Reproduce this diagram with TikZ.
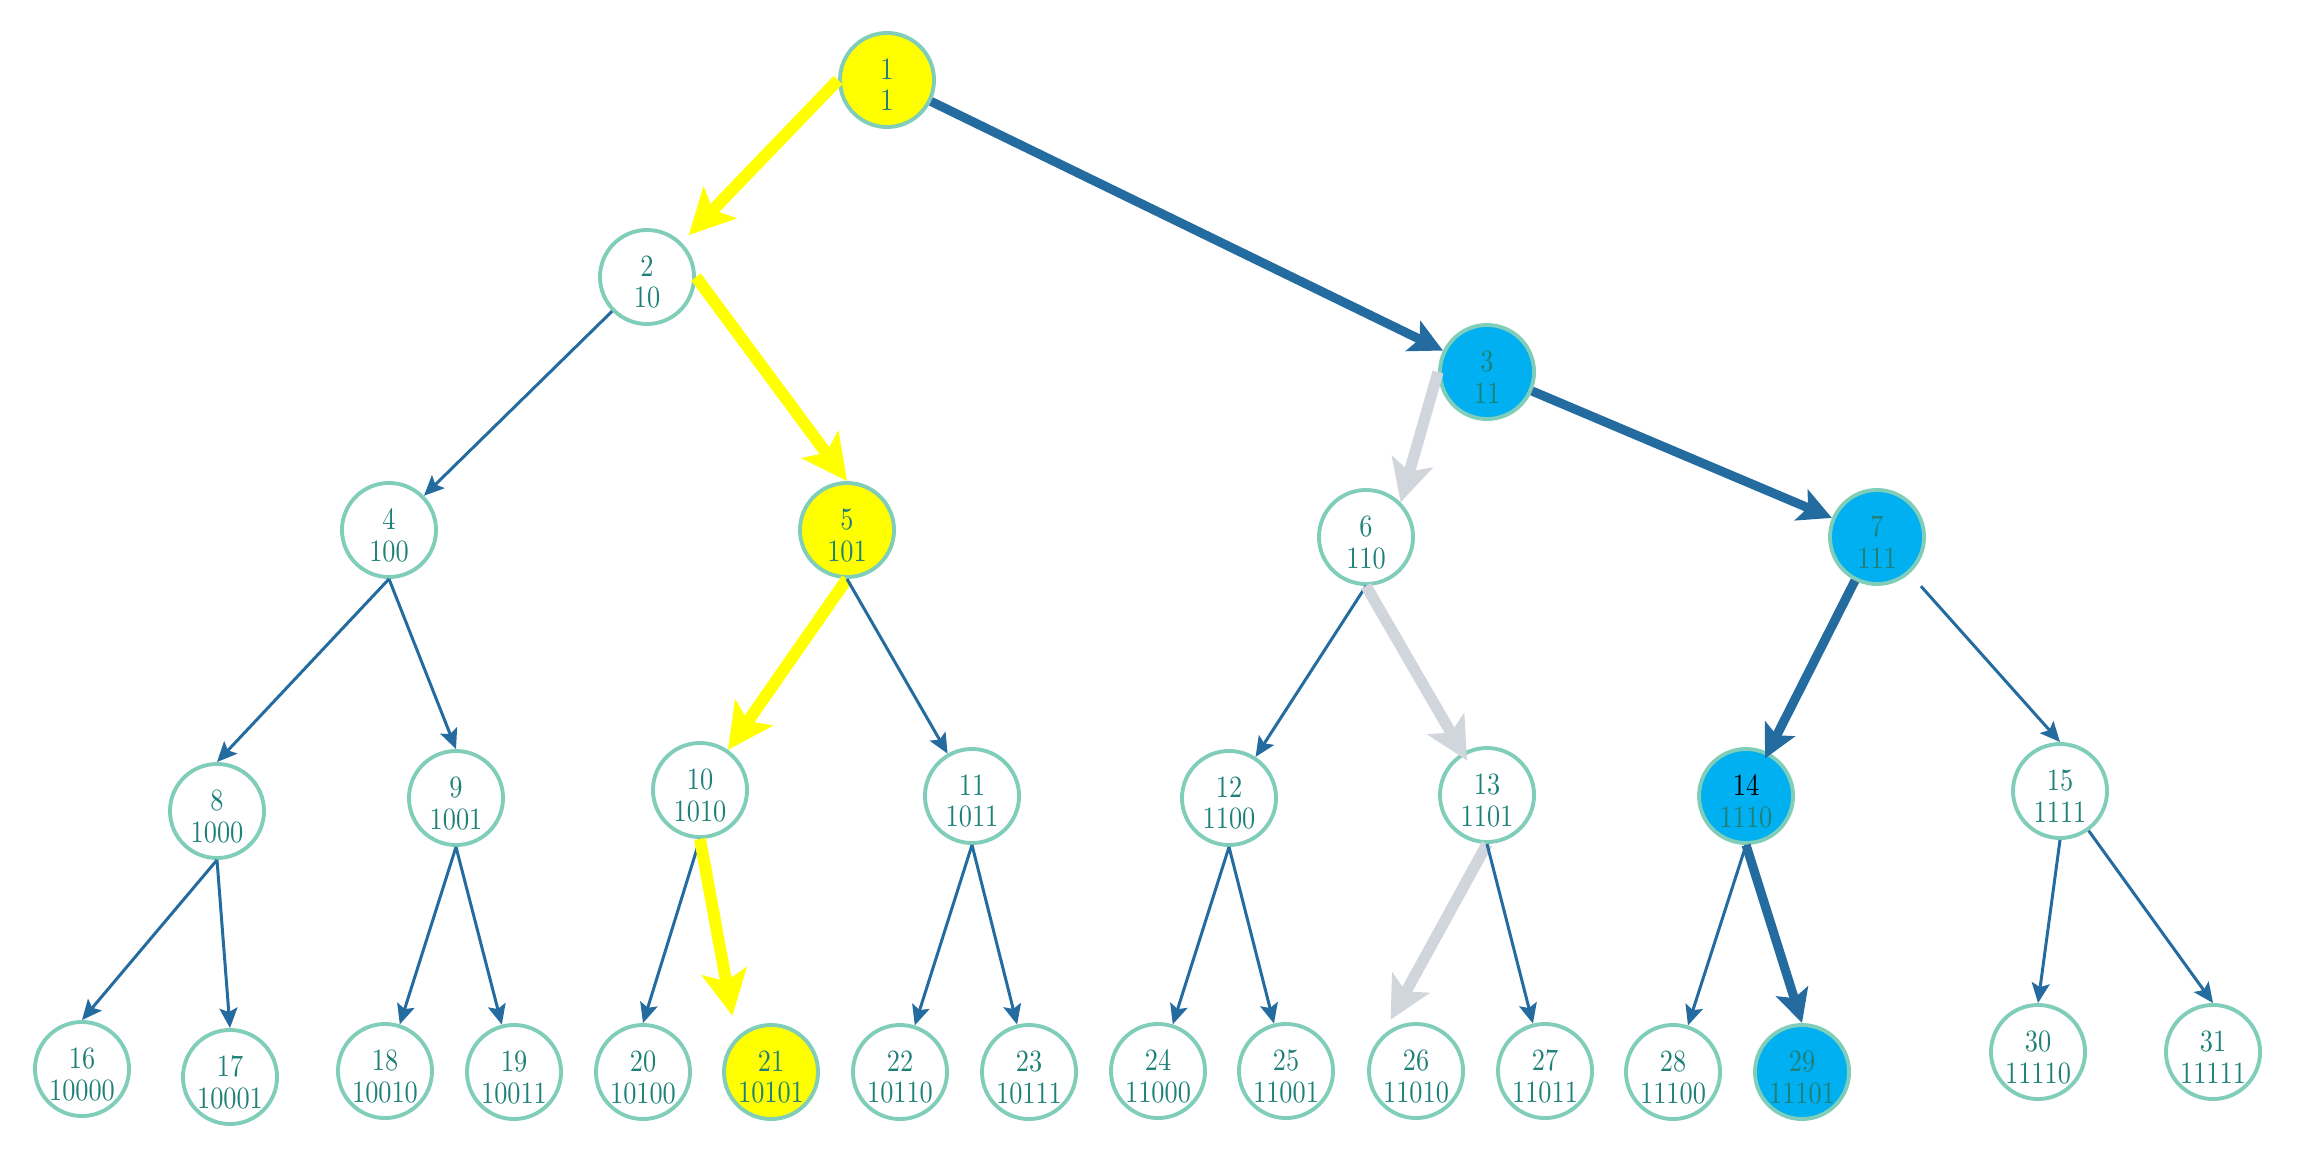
\documentclass[tikz,border=0pt]{standalone}
\usepackage{fontspec}
\usetikzlibrary{arrows.meta}
\newfontfamily\nodefont{lmroman10-regular.otf}[FakeStretch=0.85]
\newcommand\tx[2]{\raisebox{-0.5mm}[\height][0pt]{\shortstack{#1\\#2}}}
\definecolor{ring}{HTML}{80CDB9}
\definecolor{txt}{HTML}{1E8078}
\definecolor{eblue}{HTML}{246BA0}
\definecolor{hyel}{HTML}{FFFF00}
\definecolor{hgray}{HTML}{D1D5DC}
\definecolor{hblue}{HTML}{00B0F0}
\begin{document}
\begin{tikzpicture}[x=0.01cm,y=-0.01cm,
 nd/.style={circle,draw=ring,line width=1.1pt,minimum size=0.94cm,inner sep=0pt,text=txt,font=\nodefont\fontsize{8.8}{9}\selectfont},
 ynd/.style={nd,fill=hyel},
 bnd/.style={nd,fill=hblue},
 tarr/.style={draw=eblue,line width=0.85pt,-{Stealth[length=0.2cm,width=0.18cm,inset=0.04cm]}},
 barr/.style={draw=eblue,line width=2.6pt,-{Stealth[length=0.33cm,width=0.33cm,inset=0.07cm]}},
 yarr/.style={draw=hyel,line width=3.4pt,-{Stealth[length=0.45cm,width=0.45cm,inset=0.1cm]}},
 garr/.style={draw=hgray,line width=3.2pt,-{Stealth[length=0.42cm,width=0.42cm,inset=0.1cm]}}
]
\useasboundingbox (0,0) rectangle (2313,1173);
% level 0-2
\node[ynd] (n1) at (887,80) {\tx{1}{1}};
\node[nd]  (n2) at (647,277) {\tx{2}{10}};
\node[bnd] (n3) at (1487,372) {\tx{3}{11}};
\node[nd]  (n4) at (389,530) {\tx{4}{100}};
\node[ynd] (n5) at (847,530) {\tx{5}{101}};
\node[nd]  (n6) at (1366,537) {\tx{6}{110}};
\node[bnd] (n7) at (1877,537) {\tx{7}{111}};
% level 3
\node[nd] (n8)  at (217,811) {\tx{8}{1000}};
\node[nd] (n9)  at (456,798) {\tx{9}{1001}};
\node[nd] (n10) at (700,790) {\tx{10}{1010}};
\node[nd] (n11) at (972,796) {\tx{11}{1011}};
\node[nd] (n12) at (1229,798) {\tx{12}{1100}};
\node[nd] (n13) at (1487,795) {\tx{13}{1101}};
\node[bnd] (n14) at (1746,796) {\tx{\color{black}14}{1110}};
\node[nd] (n15) at (2060,791) {\tx{15}{1111}};
% level 4
\node[nd] (n16) at (82,1069) {\tx{16}{10000}};
\node[nd] (n17) at (230,1077) {\tx{17}{10001}};
\node[nd] (n18) at (385,1071) {\tx{18}{10010}};
\node[nd] (n19) at (514,1072) {\tx{19}{10011}};
\node[nd] (n20) at (643,1072) {\tx{20}{10100}};
\node[ynd] (n21) at (771,1072) {\tx{21}{10101}};
\node[nd] (n22) at (900,1072) {\tx{22}{10110}};
\node[nd] (n23) at (1029,1072) {\tx{23}{10111}};
\node[nd] (n24) at (1158,1071) {\tx{24}{11000}};
\node[nd] (n25) at (1286,1071) {\tx{25}{11001}};
\node[nd] (n26) at (1416,1071) {\tx{26}{11010}};
\node[nd] (n27) at (1545,1071) {\tx{27}{11011}};
\node[nd] (n28) at (1673,1072) {\tx{28}{11100}};
\node[bnd] (n29) at (1802,1072) {\tx{29}{11101}};
\node[nd] (n30) at (2038,1052) {\tx{30}{11110}};
\node[nd] (n31) at (2213,1052) {\tx{31}{11111}};
% edges
\draw[yarr,shorten >=0.1cm] (n1.west) -- (n2.north east);
\draw[barr] (n1) -- (n3);
\draw[tarr] (n2) -- (n4);
\draw[yarr] (n2.east) -- (n5.north);
\draw[garr] (n3.west) -- (n6.north east);
\draw[barr] (n3) -- (n7);
\draw[tarr] (n4.south) -- (n8.north);
\draw[tarr] (n4.south) -- (n9.north);
\draw[yarr] (n5.south) -- (n10);
\draw[tarr] (n5.south) -- (n11);
\draw[tarr] (n6.south) -- (n12);
\draw[garr,shorten >=0.4cm] (n6.south) -- (n13.center);
\draw[barr,shorten >=0.42cm] (n7) -- (n14.center);
\draw[tarr,shorten <=0.17cm] (n7) -- (n15.north);
\draw[tarr] (n8.south) -- (n16.north);
\draw[tarr] (n8.south) -- (n17.north);
\draw[tarr] (n9.south) -- (n18);
\draw[tarr] (n9.south) -- (n19);
\draw[tarr] (n10.south) -- (n20.north);
\draw[yarr,shorten >=0.22cm] (n10.south) -- (n21.north west);
\draw[tarr] (n11.south) -- (n22);
\draw[tarr] (n11.south) -- (n23);
\draw[tarr] (n12.south) -- (n24);
\draw[tarr] (n12.south) -- (n25);
\draw[garr,shorten >=0.19cm] (n13.south) -- (n26.north west);
\draw[tarr] (n13.south) -- (n27);
\draw[tarr] (n14.south) -- (n28);
\draw[barr] (n14.south) -- (n29.north);
\draw[tarr] (n15.south) -- (n30.north);
\draw[tarr] (n15) -- (n31.north);
\end{tikzpicture}
\end{document}
